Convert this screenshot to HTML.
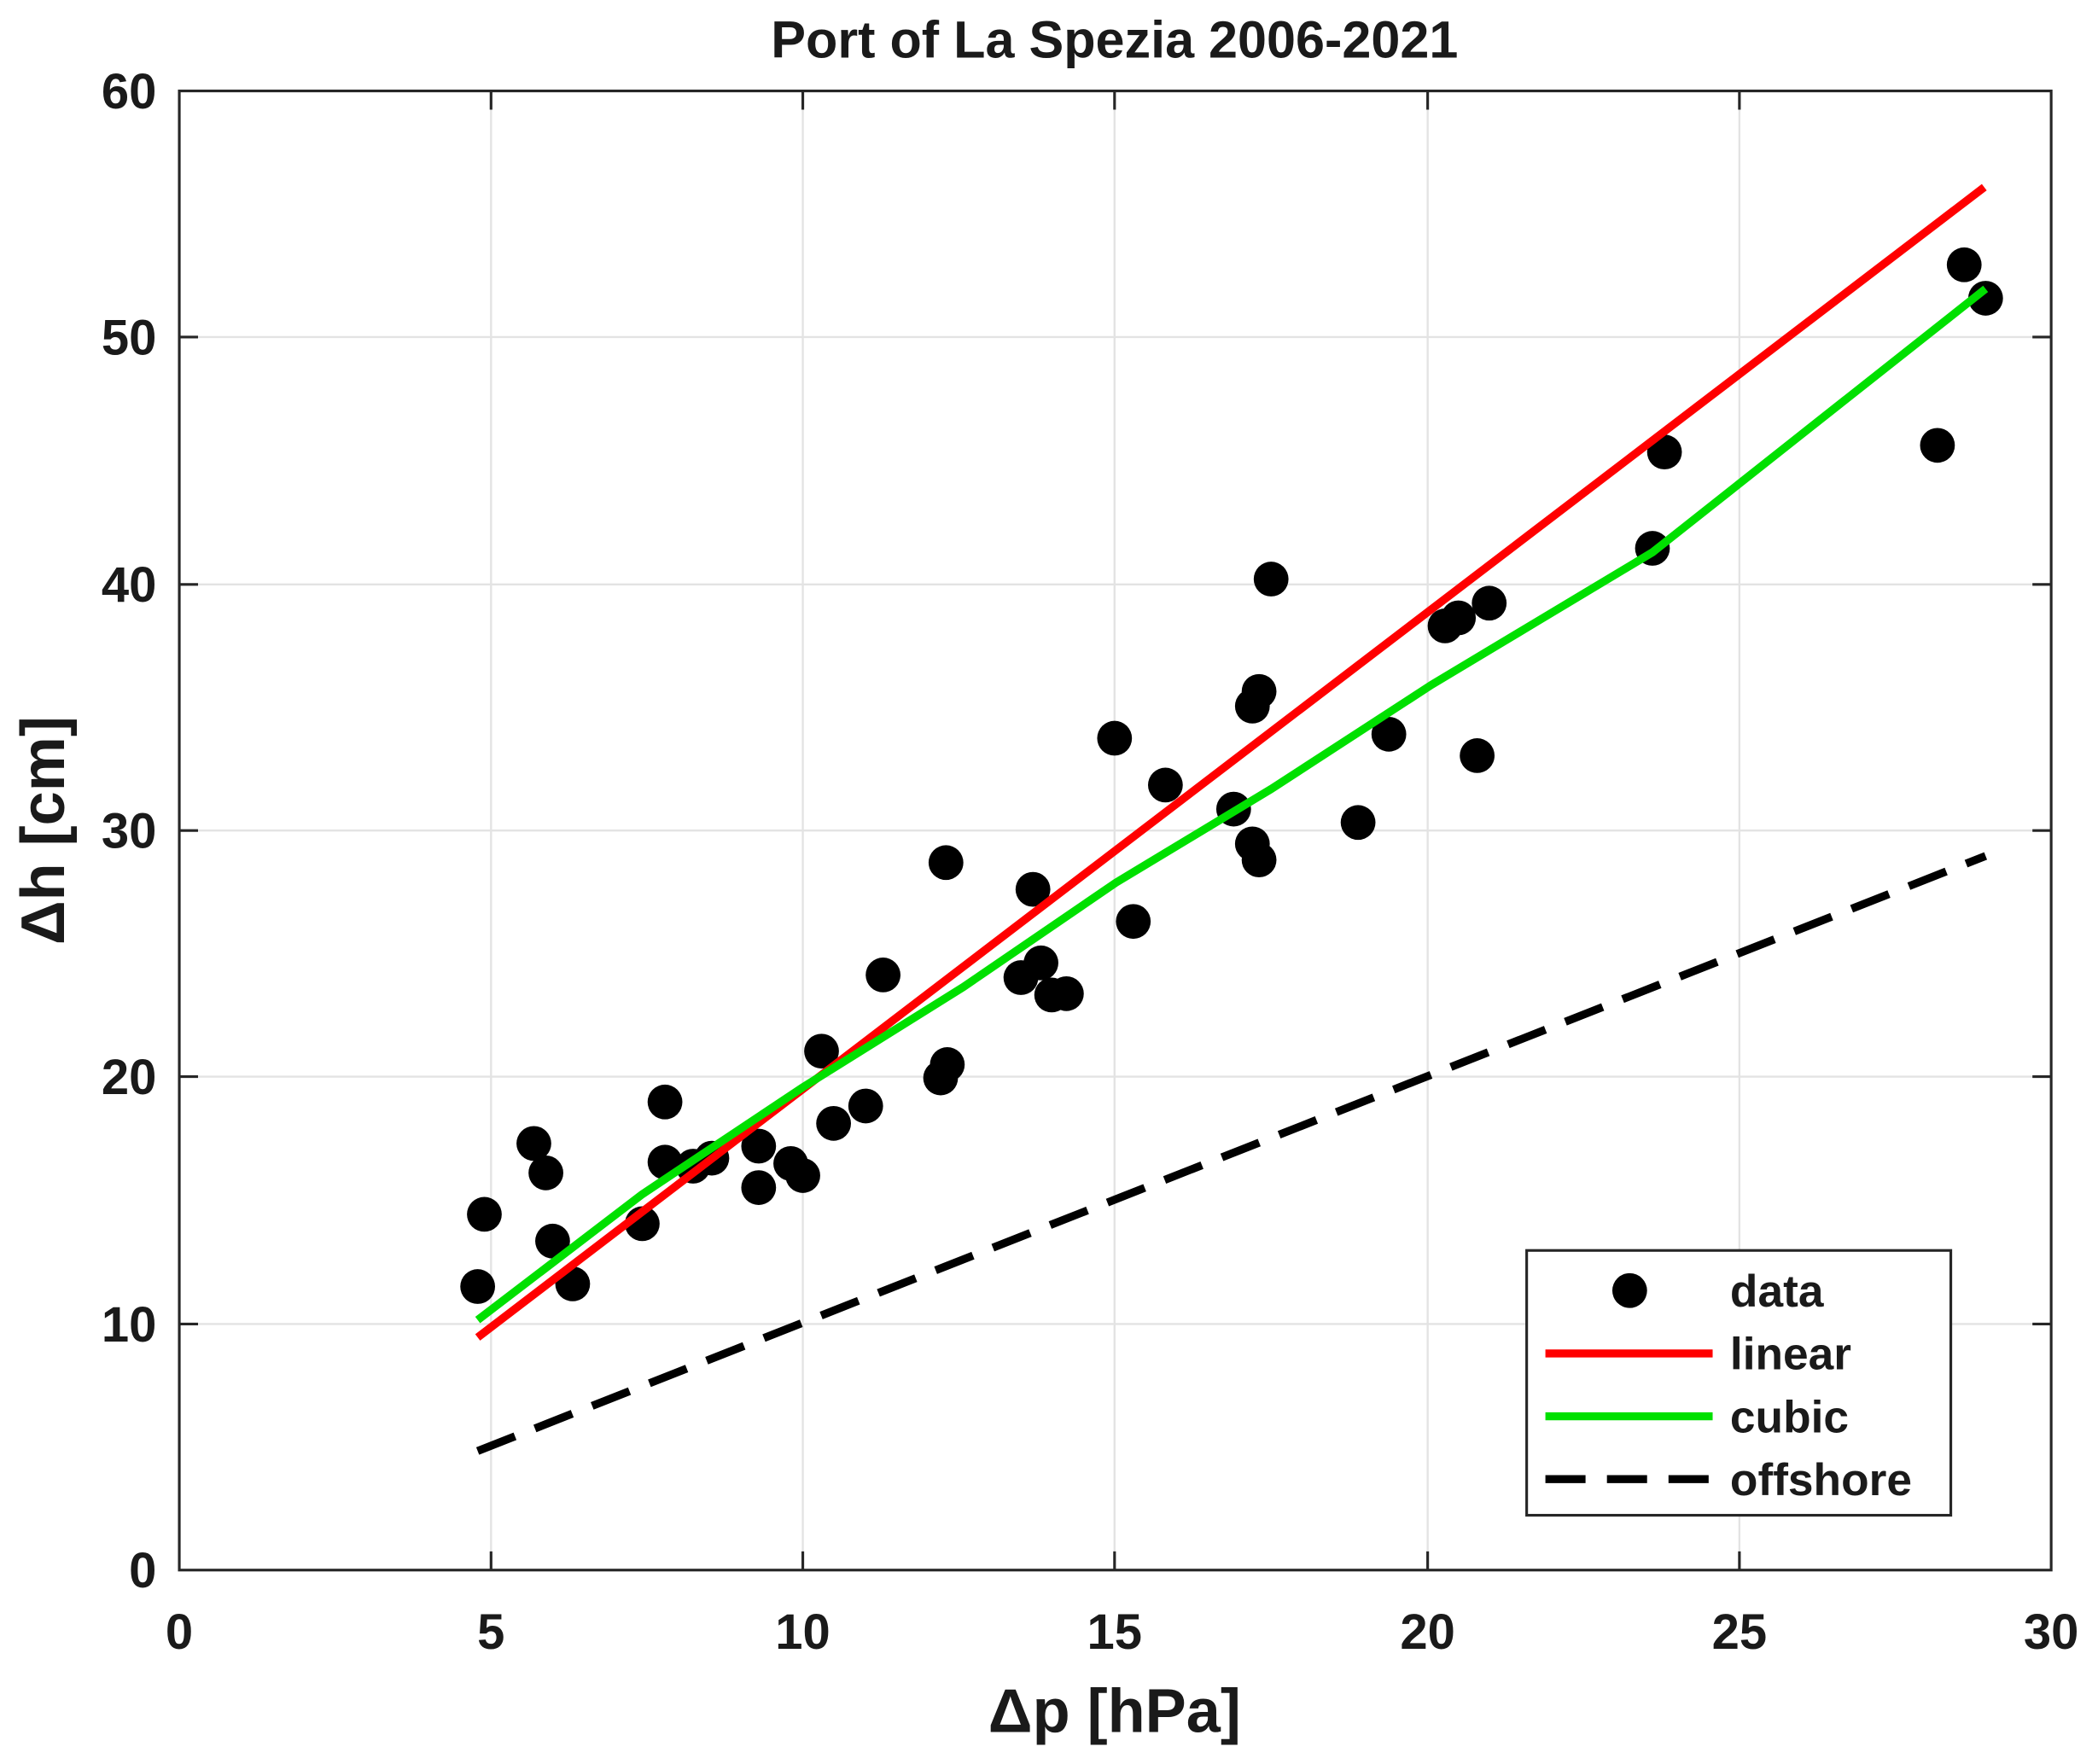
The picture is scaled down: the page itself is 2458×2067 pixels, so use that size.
<!DOCTYPE html>
<html><head><meta charset="utf-8"><style>
html,body{margin:0;padding:0;background:#fff;}
svg{display:block;}
text{font-family:"Liberation Sans",Arial,sans-serif;font-weight:bold;fill:#1a1a1a;}
</style></head><body>
<svg width="2458" height="2067" viewBox="0 0 1568 1319" preserveAspectRatio="none" xmlns="http://www.w3.org/2000/svg">
<rect width="1568" height="1319" fill="#fff"/>
<g stroke="#e3e3e3" stroke-width="1.5">
<line x1="367" y1="68" x2="367" y2="1174"/><line x1="600" y1="68" x2="600" y2="1174"/>
<line x1="833" y1="68" x2="833" y2="1174"/><line x1="1067" y1="68" x2="1067" y2="1174"/>
<line x1="1300" y1="68" x2="1300" y2="1174"/>
<line x1="134" y1="990" x2="1533" y2="990"/><line x1="134" y1="805" x2="1533" y2="805"/>
<line x1="134" y1="621" x2="1533" y2="621"/><line x1="134" y1="437" x2="1533" y2="437"/>
<line x1="134" y1="252" x2="1533" y2="252"/>
</g>
<g stroke="#262626" stroke-width="2">
<rect x="134" y="68" width="1399" height="1106" fill="none"/>
<path d="M367 1174v-14M600 1174v-14M833 1174v-14M1067 1174v-14M1300 1174v-14M367 68v14M600 68v14M833 68v14M1067 68v14M1300 68v14M134 990h14M134 805h14M134 621h14M134 437h14M134 252h14M1533 990h-14M1533 805h-14M1533 621h-14M1533 437h-14M1533 252h-14"/>
</g>
<g font-size="37" text-anchor="middle">
<text x="134" y="1233">0</text><text x="367" y="1233">5</text><text x="600" y="1233">10</text>
<text x="833" y="1233">15</text><text x="1067" y="1233">20</text><text x="1300" y="1233">25</text><text x="1533" y="1233">30</text>
</g>
<g font-size="37" text-anchor="end">
<text x="117" y="1187">0</text><text x="117" y="1003">10</text><text x="117" y="818">20</text>
<text x="117" y="634">30</text><text x="117" y="450">40</text><text x="117" y="265">50</text><text x="117" y="81">60</text>
</g>
<text x="833" y="43" font-size="39" text-anchor="middle" fill="#000">Port of La Spezia 2006-2021</text>
<text x="833" y="1295" font-size="46" text-anchor="middle">Δp [hPa]</text>
<text transform="translate(48,621) rotate(-90)" font-size="46" text-anchor="middle">Δh [cm]</text>
<g fill="#000">
<circle cx="357" cy="962" r="13"/><circle cx="362" cy="908" r="13"/><circle cx="399" cy="855" r="13"/><circle cx="408" cy="877" r="13"/><circle cx="413" cy="928" r="13"/><circle cx="428" cy="960" r="13"/><circle cx="480" cy="915" r="13"/><circle cx="497" cy="824" r="13"/><circle cx="497" cy="869" r="13"/><circle cx="518" cy="872" r="13"/><circle cx="532" cy="866" r="13"/><circle cx="567" cy="857" r="13"/><circle cx="567" cy="888" r="13"/><circle cx="591" cy="870" r="13"/><circle cx="600" cy="879" r="13"/><circle cx="614" cy="786" r="13"/><circle cx="623" cy="840" r="13"/><circle cx="647" cy="827" r="13"/><circle cx="660" cy="729" r="13"/><circle cx="707" cy="645" r="13"/><circle cx="703" cy="806" r="13"/><circle cx="708" cy="796" r="13"/><circle cx="763" cy="731" r="13"/><circle cx="772" cy="665" r="13"/><circle cx="778" cy="720" r="13"/><circle cx="786" cy="744" r="13"/><circle cx="797" cy="743" r="13"/><circle cx="833" cy="552" r="13"/><circle cx="847" cy="689" r="13"/><circle cx="871" cy="587" r="13"/><circle cx="922" cy="605" r="13"/><circle cx="936" cy="528" r="13"/><circle cx="936" cy="631" r="13"/><circle cx="941" cy="517" r="13"/><circle cx="941" cy="643" r="13"/><circle cx="950" cy="433" r="13"/><circle cx="1015" cy="615" r="13"/><circle cx="1038" cy="549" r="13"/><circle cx="1080" cy="468" r="13"/><circle cx="1090" cy="462" r="13"/><circle cx="1104" cy="565" r="13"/><circle cx="1113" cy="451" r="13"/><circle cx="1235" cy="410" r="13"/><circle cx="1244" cy="338" r="13"/><circle cx="1448" cy="333" r="13"/><circle cx="1468" cy="198" r="13"/><circle cx="1484" cy="223" r="13"/>
</g>
<line x1="357" y1="1000" x2="1483" y2="140" stroke="#ff0000" stroke-width="6"/>
<polyline points="357,987 480,893 600,813 720,738 834,660 950,590 1070,512 1150,464 1235,413 1350,322 1484,216" fill="none" stroke="#00e000" stroke-width="6"/>
<line x1="357" y1="1085" x2="1484" y2="640" stroke="#000" stroke-width="6" stroke-dasharray="30 16"/>
<rect x="1141" y="935" width="317" height="198" fill="#fff" stroke="#262626" stroke-width="2"/>
<circle cx="1218" cy="965" r="13" fill="#000"/>
<line x1="1155" y1="1012" x2="1280" y2="1012" stroke="#ff0000" stroke-width="6"/>
<line x1="1155" y1="1059" x2="1280" y2="1059" stroke="#00e000" stroke-width="6"/>
<line x1="1155" y1="1106" x2="1280" y2="1106" stroke="#000" stroke-width="6" stroke-dasharray="30 16"/>
<g font-size="34">
<text x="1293" y="977">data</text><text x="1293" y="1024">linear</text><text x="1293" y="1071">cubic</text><text x="1293" y="1118">offshore</text>
</g>
</svg>
</body></html>
